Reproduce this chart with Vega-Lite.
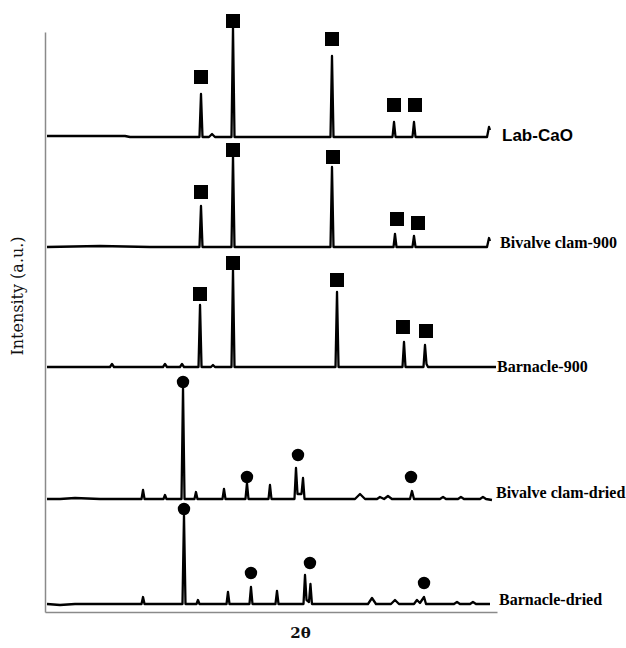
{
  "$schema": "https://vega.github.io/schema/vega-lite/v6.json",
  "autosize": "none",
  "width": 452,
  "height": 580,
  "padding": {"left": 45, "top": 32, "right": 129, "bottom": 36},
  "background": "white",
  "config": {"view": {"stroke": null}},
  "datasets": {
    "traces": [
      {"s": "Lab-CaO", "t": 6.73, "i": 476}, {"s": "Lab-CaO", "t": 13.84, "i": 476}, {"s": "Lab-CaO", "t": 19.62, "i": 476}, {"s": "Lab-CaO", "t": 20.45, "i": 475},
      {"s": "Lab-CaO", "t": 31.93, "i": 475}, {"s": "Lab-CaO", "t": 32.18, "i": 518}, {"s": "Lab-CaO", "t": 32.43, "i": 475},
      {"s": "Lab-CaO", "t": 33.5, "i": 475}, {"s": "Lab-CaO", "t": 34.0, "i": 478}, {"s": "Lab-CaO", "t": 34.49, "i": 475},
      {"s": "Lab-CaO", "t": 37.22, "i": 475}, {"s": "Lab-CaO", "t": 37.47, "i": 584}, {"s": "Lab-CaO", "t": 37.72, "i": 475},
      {"s": "Lab-CaO", "t": 53.58, "i": 475}, {"s": "Lab-CaO", "t": 53.83, "i": 556}, {"s": "Lab-CaO", "t": 54.08, "i": 475},
      {"s": "Lab-CaO", "t": 63.83, "i": 475}, {"s": "Lab-CaO", "t": 64.08, "i": 490}, {"s": "Lab-CaO", "t": 64.33, "i": 475},
      {"s": "Lab-CaO", "t": 67.13, "i": 475}, {"s": "Lab-CaO", "t": 67.38, "i": 490}, {"s": "Lab-CaO", "t": 67.63, "i": 475},
      {"s": "Lab-CaO", "t": 79.45, "i": 475}, {"s": "Lab-CaO", "t": 79.78, "i": 485}, {"s": "Lab-CaO", "t": 79.94, "i": 482},

      {"s": "Bivalve clam-900", "t": 6.73, "i": 365}, {"s": "Bivalve clam-900", "t": 15.49, "i": 366}, {"s": "Bivalve clam-900", "t": 23.75, "i": 365},
      {"s": "Bivalve clam-900", "t": 31.93, "i": 365}, {"s": "Bivalve clam-900", "t": 32.18, "i": 406}, {"s": "Bivalve clam-900", "t": 32.43, "i": 365},
      {"s": "Bivalve clam-900", "t": 37.22, "i": 365}, {"s": "Bivalve clam-900", "t": 37.47, "i": 456}, {"s": "Bivalve clam-900", "t": 37.72, "i": 365},
      {"s": "Bivalve clam-900", "t": 53.58, "i": 365}, {"s": "Bivalve clam-900", "t": 53.83, "i": 445}, {"s": "Bivalve clam-900", "t": 54.08, "i": 365},
      {"s": "Bivalve clam-900", "t": 64.0, "i": 365}, {"s": "Bivalve clam-900", "t": 64.24, "i": 378}, {"s": "Bivalve clam-900", "t": 64.49, "i": 365},
      {"s": "Bivalve clam-900", "t": 67.13, "i": 365}, {"s": "Bivalve clam-900", "t": 67.38, "i": 376}, {"s": "Bivalve clam-900", "t": 67.63, "i": 365},
      {"s": "Bivalve clam-900", "t": 79.45, "i": 365}, {"s": "Bivalve clam-900", "t": 79.78, "i": 374}, {"s": "Bivalve clam-900", "t": 79.94, "i": 371},

      {"s": "Barnacle-900", "t": 6.73, "i": 245}, {"s": "Barnacle-900", "t": 12.18, "i": 245},
      {"s": "Barnacle-900", "t": 17.14, "i": 245}, {"s": "Barnacle-900", "t": 17.47, "i": 248}, {"s": "Barnacle-900", "t": 17.8, "i": 245},
      {"s": "Barnacle-900", "t": 25.9, "i": 245}, {"s": "Barnacle-900", "t": 26.23, "i": 248}, {"s": "Barnacle-900", "t": 26.56, "i": 245},
      {"s": "Barnacle-900", "t": 28.71, "i": 245}, {"s": "Barnacle-900", "t": 29.04, "i": 248}, {"s": "Barnacle-900", "t": 29.37, "i": 245},
      {"s": "Barnacle-900", "t": 31.77, "i": 245}, {"s": "Barnacle-900", "t": 32.02, "i": 307}, {"s": "Barnacle-900", "t": 32.27, "i": 245},
      {"s": "Barnacle-900", "t": 33.83, "i": 245}, {"s": "Barnacle-900", "t": 34.16, "i": 247}, {"s": "Barnacle-900", "t": 34.49, "i": 245},
      {"s": "Barnacle-900", "t": 37.22, "i": 245}, {"s": "Barnacle-900", "t": 37.47, "i": 342}, {"s": "Barnacle-900", "t": 37.72, "i": 245},
      {"s": "Barnacle-900", "t": 54.41, "i": 245}, {"s": "Barnacle-900", "t": 54.66, "i": 320}, {"s": "Barnacle-900", "t": 54.91, "i": 245},
      {"s": "Barnacle-900", "t": 65.48, "i": 245}, {"s": "Barnacle-900", "t": 65.73, "i": 270}, {"s": "Barnacle-900", "t": 65.98, "i": 245},
      {"s": "Barnacle-900", "t": 68.95, "i": 245}, {"s": "Barnacle-900", "t": 69.2, "i": 267}, {"s": "Barnacle-900", "t": 69.45, "i": 248}, {"s": "Barnacle-900", "t": 69.7, "i": 245},
      {"s": "Barnacle-900", "t": 80.93, "i": 245},

      {"s": "Bivalve clam-dried", "t": 6.73, "i": 113}, {"s": "Bivalve clam-dried", "t": 8.88, "i": 113}, {"s": "Bivalve clam-dried", "t": 11.36, "i": 114}, {"s": "Bivalve clam-dried", "t": 15.49, "i": 113},
      {"s": "Bivalve clam-dried", "t": 22.35, "i": 113}, {"s": "Bivalve clam-dried", "t": 22.6, "i": 122}, {"s": "Bivalve clam-dried", "t": 22.85, "i": 113},
      {"s": "Bivalve clam-dried", "t": 25.98, "i": 113}, {"s": "Bivalve clam-dried", "t": 26.23, "i": 117}, {"s": "Bivalve clam-dried", "t": 26.48, "i": 113},
      {"s": "Bivalve clam-dried", "t": 28.96, "i": 113}, {"s": "Bivalve clam-dried", "t": 29.21, "i": 224}, {"s": "Bivalve clam-dried", "t": 29.46, "i": 113},
      {"s": "Bivalve clam-dried", "t": 31.1, "i": 113}, {"s": "Bivalve clam-dried", "t": 31.35, "i": 120}, {"s": "Bivalve clam-dried", "t": 31.6, "i": 113},
      {"s": "Bivalve clam-dried", "t": 35.73, "i": 113}, {"s": "Bivalve clam-dried", "t": 35.98, "i": 123}, {"s": "Bivalve clam-dried", "t": 36.23, "i": 113},
      {"s": "Bivalve clam-dried", "t": 39.53, "i": 113}, {"s": "Bivalve clam-dried", "t": 39.78, "i": 129}, {"s": "Bivalve clam-dried", "t": 40.03, "i": 113},
      {"s": "Bivalve clam-dried", "t": 43.34, "i": 113}, {"s": "Bivalve clam-dried", "t": 43.58, "i": 127}, {"s": "Bivalve clam-dried", "t": 43.83, "i": 113},
      {"s": "Bivalve clam-dried", "t": 47.63, "i": 113}, {"s": "Bivalve clam-dried", "t": 47.88, "i": 144}, {"s": "Bivalve clam-dried", "t": 48.13, "i": 118},
      {"s": "Bivalve clam-dried", "t": 48.79, "i": 118}, {"s": "Bivalve clam-dried", "t": 49.04, "i": 134}, {"s": "Bivalve clam-dried", "t": 49.29, "i": 113},
      {"s": "Bivalve clam-dried", "t": 57.63, "i": 113}, {"s": "Bivalve clam-dried", "t": 58.46, "i": 118}, {"s": "Bivalve clam-dried", "t": 59.29, "i": 113},
      {"s": "Bivalve clam-dried", "t": 61.27, "i": 113}, {"s": "Bivalve clam-dried", "t": 61.76, "i": 115}, {"s": "Bivalve clam-dried", "t": 62.43, "i": 113},
      {"s": "Bivalve clam-dried", "t": 63.08, "i": 116}, {"s": "Bivalve clam-dried", "t": 63.74, "i": 113},
      {"s": "Bivalve clam-dried", "t": 66.72, "i": 113}, {"s": "Bivalve clam-dried", "t": 67.05, "i": 121}, {"s": "Bivalve clam-dried", "t": 67.38, "i": 113},
      {"s": "Bivalve clam-dried", "t": 71.68, "i": 113}, {"s": "Bivalve clam-dried", "t": 72.18, "i": 115}, {"s": "Bivalve clam-dried", "t": 72.67, "i": 113},
      {"s": "Bivalve clam-dried", "t": 74.65, "i": 113}, {"s": "Bivalve clam-dried", "t": 75.14, "i": 115}, {"s": "Bivalve clam-dried", "t": 75.64, "i": 113},
      {"s": "Bivalve clam-dried", "t": 78.29, "i": 113}, {"s": "Bivalve clam-dried", "t": 78.78, "i": 115}, {"s": "Bivalve clam-dried", "t": 79.28, "i": 113},
      {"s": "Bivalve clam-dried", "t": 80.27, "i": 112},

      {"s": "Barnacle-dried", "t": 6.73, "i": 8}, {"s": "Barnacle-dried", "t": 8.88, "i": 7}, {"s": "Barnacle-dried", "t": 11.36, "i": 8},
      {"s": "Barnacle-dried", "t": 22.35, "i": 8}, {"s": "Barnacle-dried", "t": 22.6, "i": 15}, {"s": "Barnacle-dried", "t": 22.85, "i": 8},
      {"s": "Barnacle-dried", "t": 29.12, "i": 8}, {"s": "Barnacle-dried", "t": 29.37, "i": 97}, {"s": "Barnacle-dried", "t": 29.62, "i": 8},
      {"s": "Barnacle-dried", "t": 31.44, "i": 8}, {"s": "Barnacle-dried", "t": 31.68, "i": 12}, {"s": "Barnacle-dried", "t": 31.93, "i": 8},
      {"s": "Barnacle-dried", "t": 36.4, "i": 8}, {"s": "Barnacle-dried", "t": 36.64, "i": 20}, {"s": "Barnacle-dried", "t": 36.89, "i": 8},
      {"s": "Barnacle-dried", "t": 40.19, "i": 8}, {"s": "Barnacle-dried", "t": 40.44, "i": 25}, {"s": "Barnacle-dried", "t": 40.69, "i": 8},
      {"s": "Barnacle-dried", "t": 44.49, "i": 8}, {"s": "Barnacle-dried", "t": 44.74, "i": 21}, {"s": "Barnacle-dried", "t": 44.99, "i": 8},
      {"s": "Barnacle-dried", "t": 49.12, "i": 8}, {"s": "Barnacle-dried", "t": 49.37, "i": 37}, {"s": "Barnacle-dried", "t": 49.62, "i": 12},
      {"s": "Barnacle-dried", "t": 50.03, "i": 10}, {"s": "Barnacle-dried", "t": 50.27, "i": 28}, {"s": "Barnacle-dried", "t": 50.52, "i": 8},
      {"s": "Barnacle-dried", "t": 59.78, "i": 8}, {"s": "Barnacle-dried", "t": 60.44, "i": 14}, {"s": "Barnacle-dried", "t": 61.1, "i": 8},
      {"s": "Barnacle-dried", "t": 63.58, "i": 8}, {"s": "Barnacle-dried", "t": 64.24, "i": 12}, {"s": "Barnacle-dried", "t": 64.9, "i": 8},
      {"s": "Barnacle-dried", "t": 67.38, "i": 8}, {"s": "Barnacle-dried", "t": 67.87, "i": 12}, {"s": "Barnacle-dried", "t": 68.37, "i": 9},
      {"s": "Barnacle-dried", "t": 69.04, "i": 15}, {"s": "Barnacle-dried", "t": 69.37, "i": 8},
      {"s": "Barnacle-dried", "t": 73.99, "i": 8}, {"s": "Barnacle-dried", "t": 74.49, "i": 10}, {"s": "Barnacle-dried", "t": 74.98, "i": 8},
      {"s": "Barnacle-dried", "t": 76.64, "i": 8}, {"s": "Barnacle-dried", "t": 77.13, "i": 10}, {"s": "Barnacle-dried", "t": 77.63, "i": 8},
      {"s": "Barnacle-dried", "t": 79.94, "i": 8}
    ],
    "squares": [
      {"s": "Lab-CaO", "t": 32.18, "i": 535}, {"s": "Lab-CaO", "t": 37.47, "i": 591}, {"s": "Lab-CaO", "t": 53.83, "i": 573}, {"s": "Lab-CaO", "t": 64.08, "i": 507}, {"s": "Lab-CaO", "t": 67.55, "i": 507},
      {"s": "Bivalve clam-900", "t": 32.18, "i": 420}, {"s": "Bivalve clam-900", "t": 37.47, "i": 462}, {"s": "Bivalve clam-900", "t": 54.0, "i": 455}, {"s": "Bivalve clam-900", "t": 64.57, "i": 393}, {"s": "Bivalve clam-900", "t": 68.04, "i": 389},
      {"s": "Barnacle-900", "t": 32.02, "i": 318}, {"s": "Barnacle-900", "t": 37.47, "i": 349}, {"s": "Barnacle-900", "t": 54.66, "i": 332}, {"s": "Barnacle-900", "t": 65.56, "i": 285}, {"s": "Barnacle-900", "t": 69.37, "i": 281}
    ],
    "circles": [
      {"s": "Bivalve clam-dried", "t": 29.21, "i": 230}, {"s": "Bivalve clam-dried", "t": 39.78, "i": 135}, {"s": "Bivalve clam-dried", "t": 48.21, "i": 157}, {"s": "Bivalve clam-dried", "t": 66.89, "i": 135},
      {"s": "Barnacle-dried", "t": 29.37, "i": 103}, {"s": "Barnacle-dried", "t": 40.44, "i": 39}, {"s": "Barnacle-dried", "t": 50.19, "i": 49}, {"s": "Barnacle-dried", "t": 69.04, "i": 29}
    ],
    "labelSans": [
      {"label": "Lab-CaO", "t": 81.93, "i": 471}
    ],
    "labelSerif": [
      {"label": "Bivalve clam-900", "t": 81.6, "i": 364},
      {"label": "Barnacle-900", "t": 81.1, "i": 240},
      {"label": "Bivalve clam-dried", "t": 80.93, "i": 114},
      {"label": "Barnacle-dried", "t": 81.43, "i": 7}
    ]
  },
  "encoding": {
    "x": {
      "field": "t", "type": "quantitative",
      "scale": {"domain": [6.4, 81.1], "nice": false, "zero": false},
      "axis": {
        "domain": true, "domainColor": "#8a8a8a", "domainWidth": 1.5,
        "ticks": false, "labels": false, "grid": false,
        "title": "2θ", "titleFont": "DejaVu Serif", "titleFontWeight": "bold", "titleFontSize": 15, "titleColor": "#111",
        "titleX": 255, "titleY": 20, "titleBaseline": "middle", "titleAlign": "center"
      }
    },
    "y": {
      "field": "i", "type": "quantitative",
      "scale": {"domain": [0, 580], "nice": false, "zero": false},
      "axis": {
        "domain": true, "domainColor": "#8a8a8a", "domainWidth": 1.5,
        "ticks": false, "labels": false, "grid": false,
        "title": "Intensity (a.u.)", "titleFont": "DejaVu Serif", "titleFontWeight": "normal", "titleFontSize": 16, "titleColor": "#111",
        "titleX": -27.5, "titleY": 263.5, "titleBaseline": "middle", "titleAlign": "center", "titleAngle": -90
      }
    }
  },
  "layer": [
    {
      "data": {"name": "traces"},
      "mark": {"type": "line", "color": "black", "strokeWidth": 2.3, "strokeJoin": "round"},
      "encoding": {"detail": {"field": "s", "type": "nominal"}}
    },
    {
      "data": {"name": "squares"},
      "mark": {"type": "square", "color": "black", "size": 196, "opacity": 1}
    },
    {
      "data": {"name": "circles"},
      "mark": {"type": "circle", "color": "black", "size": 154, "opacity": 1}
    },
    {
      "data": {"name": "labelSans"},
      "mark": {"type": "text", "font": "Liberation Sans", "fontWeight": "bold", "fontSize": 17, "align": "left", "baseline": "alphabetic", "color": "black"},
      "encoding": {"text": {"field": "label"}}
    },
    {
      "data": {"name": "labelSerif"},
      "mark": {"type": "text", "font": "Liberation Serif", "fontWeight": "bold", "fontSize": 16, "align": "left", "baseline": "alphabetic", "color": "black"},
      "encoding": {"text": {"field": "label"}}
    }
  ]
}
